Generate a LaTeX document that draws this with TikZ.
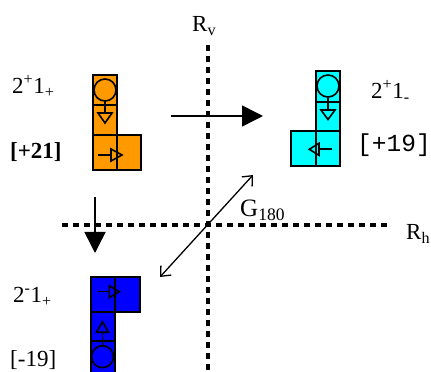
\documentclass[tikz,border=0pt]{standalone}
\usepackage{fontspec}
\setmainfont{Liberation Serif}
\setmonofont{Liberation Mono}
\usetikzlibrary{arrows.meta}
\definecolor{tileorange}{RGB}{255,153,0}
\definecolor{tilecyan}{RGB}{0,255,255}
\definecolor{tileblue}{RGB}{0,0,255}

\begin{document}
\begin{tikzpicture}[x=1pt, y=1pt, every node/.style={font=\fontsize{23}{27}\selectfont, inner sep=0pt},
  cell/.style={draw, line width=1.8pt},
  glyph/.style={line width=1.6pt},
  mirror/.style={dash pattern=on 6pt off 5pt, line width=3.8pt},
  move/.style={line width=1.5pt, -{Triangle[length=21pt,width=21pt]}}]
  \useasboundingbox (0,0) rectangle (431,372);

  % mirror lines
  \coordinate (vtop) at (208,327);
  \coordinate (vbot) at (208,0);
  \coordinate (hleft) at (62,147);
  \coordinate (hright) at (388,147);
  \draw[mirror] (vtop) -- (vbot);
  \draw[mirror] (hleft) -- (hright);
  \node[anchor=base west] (rv) at (192,340) {R\textsubscript{v}};
  \node[anchor=base west] (rh) at (406,132) {R\textsubscript{h}};

  % orange tile
  \begin{scope}[fill=tileorange]
    \filldraw[cell] (93,267) rectangle (117,297);
    \filldraw[cell] (93,237) rectangle (117,267);
    \filldraw[cell] (93,202) rectangle (117,237);
    \filldraw[cell] (117,202) rectangle (141,237);
    \draw[glyph] (105,282) circle (11);
    \draw[glyph] (105,271) -- (105,259);
    \draw[glyph] (98,259) -- (112,259) -- (105,249) -- cycle;
    \draw[glyph] (98,217) -- (111,217);
    \draw[glyph] (111,211) -- (111,223) -- (122,217) -- cycle;
  \end{scope}
  \node[anchor=base west] (lorange) at (12,278) {2\textsuperscript{+}1\textsubscript{+}};
  \node[anchor=base west] (sorange) at (10,213) {\textbf{[+21]}};

  % cyan tile
  \begin{scope}[fill=tilecyan]
    \filldraw[cell] (316,270) rectangle (340,301);
    \filldraw[cell] (316,241) rectangle (340,270);
    \filldraw[cell] (291,206) rectangle (316,241);
    \filldraw[cell] (316,206) rectangle (340,241);
    \draw[glyph] (328,286) circle (11);
    \draw[glyph] (328,275) -- (328,262);
    \draw[glyph] (321,262) -- (335,262) -- (328,252.5) -- cycle;
    \draw[glyph] (332,222.7) -- (319,222.7);
    \draw[glyph] (319,216.7) -- (319,228.7) -- (309.3,222.7) -- cycle;
  \end{scope}
  \node[anchor=base west] (lcyan) at (371,273) {2\textsuperscript{+}1\textsubscript{-}};
  \node[anchor=base west, font=\fontsize{24.5}{28}\selectfont] (scyan) at (357,220) {\texttt{[+19]}};

  % blue tile
  \begin{scope}[fill=tileblue]
    \filldraw[cell] (91,60) rectangle (115,95);
    \filldraw[cell] (115,60) rectangle (140,95);
    \filldraw[cell] (91,31) rectangle (115,60);
    \filldraw[cell] (91,-5) rectangle (115,31);
    \draw[glyph] (96.7,80.3) -- (109.3,80.3);
    \draw[glyph] (109.3,74.3) -- (109.3,86.3) -- (119.3,80.3) -- cycle;
    \draw[glyph] (96.5,39.7) -- (108.5,39.7) -- (102.5,50.3) -- cycle;
    \draw[glyph] (102.5,39.7) -- (102.5,26.3);
    \draw[glyph] (102.5,15.3) circle (11);
  \end{scope}
  \node[anchor=base west] (lblue) at (13,69) {2\textsuperscript{-}1\textsubscript{+}};
  \node[anchor=base west] (sblue) at (10,5) {[-19]};

  % moves
  \coordinate (hstart) at (171,256);
  \coordinate (hend) at (263,256);
  \draw[move] (hstart) -- (hend);
  \coordinate (vstart) at (95,175);
  \coordinate (vend) at (95,119);
  \draw[move] (vstart) -- (vend);
  \coordinate (gstart) at (160,95);
  \coordinate (gend) at (253,197);
  \draw[line width=1.3pt, {Straight Barb[length=8pt,width=14pt]}-{Straight Barb[length=8pt,width=14pt]}] (gstart) -- (gend);
  \node[anchor=base west, font=\fontsize{25}{29}\selectfont] (g) at (240,155) {G\textsubscript{180}};
\end{tikzpicture}
\end{document}
